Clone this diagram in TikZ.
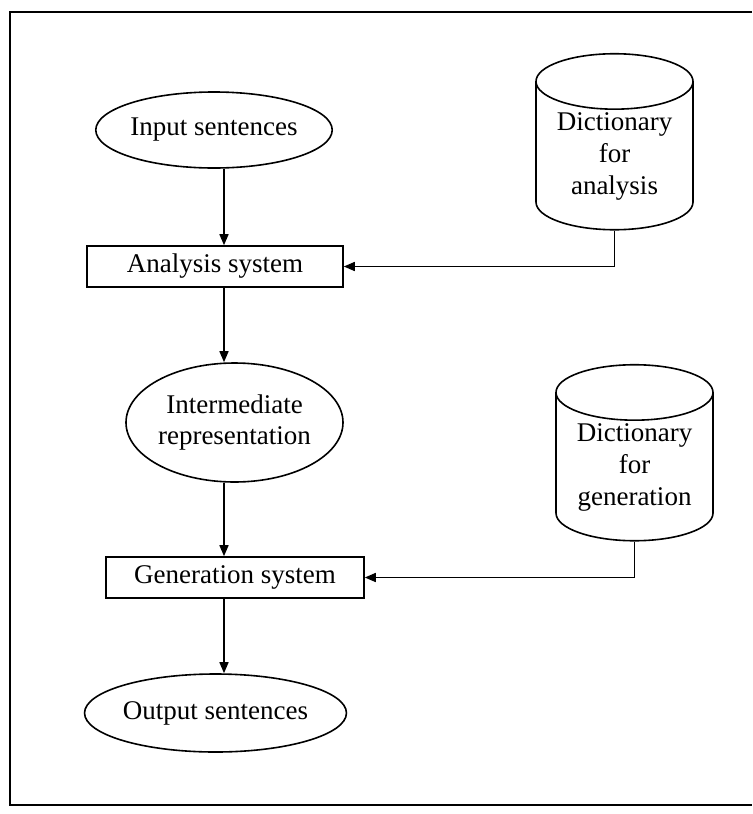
\documentclass[tikz,border=0pt]{standalone}
\usepackage{fontspec}
\setmainfont{Liberation Serif}
\usetikzlibrary{shapes.geometric,arrows.meta}
\begin{document}
\begin{tikzpicture}[x=0.5pt, y=-0.5pt, line width = 0.8pt,
  ellnode/.style={ellipse, draw, inner sep=0pt},
  boxnode/.style={rectangle, draw, inner sep=0pt, minimum height=20.5pt},
  dictnode/.style={cylinder, shape border rotate=90, aspect=0.48, draw, align=center,
    inner sep=0pt, minimum width=78.5pt, minimum height=88pt},
  arr/.style={-{Triangle[length=5.5pt, width=4.5pt]}}]
\fill[white] (0,0) rectangle (752,814);
\useasboundingbox (0,0) rectangle (752,814);
\fontsize{13.5}{16}\selectfont
\draw[line width = 1.1pt] (752,12) -- (10,12) -- (10,805) -- (752,805);
\coordinate (spine) at (224,0);

\node[ellnode, minimum width=108pt, minimum height=38pt] (input) at (214,130) {Input sentences};
\node[boxnode, minimum width=128pt] (analysis) at (215,266.5) {Analysis system};
\node[ellnode, align=center, minimum width=108.5pt, minimum height=59.5pt] (inter) at (234.5,422.5) {Intermediate\\representation};
\node[boxnode, minimum width=129pt] (generation) at (235,577.5) {Generation system};
\node[ellnode, minimum width=107.5pt, minimum height=39pt] (output) at (215.5,713) {Output sentences};
\node[dictnode] (dicta) at (614.5,156) {Dictionary\\for\\analysis};
\node[dictnode] (dictg) at (634.5,467) {Dictionary\\for\\generation};

\draw[arr] (input.south -| spine) -- (analysis.north -| spine);
\draw[arr] (analysis.south -| spine) -- (inter.north -| spine);
\draw[arr] (inter.south -| spine) -- (generation.north -| spine);
\draw[arr] (generation.south -| spine) -- (output.north -| spine);
\draw[arr] (dicta.south) |- (analysis.east);
\draw[arr] (dictg.south) |- (generation.east);

\end{tikzpicture}
\end{document}
